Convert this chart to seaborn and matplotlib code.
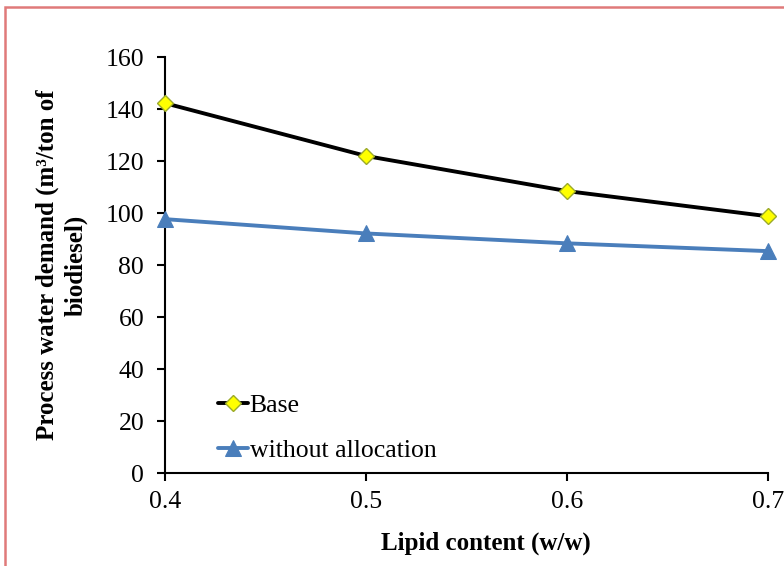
import pandas as pd
import seaborn as sns
import matplotlib.pyplot as plt
from matplotlib.patches import Rectangle

# values
lipid = [0.4, 0.5, 0.6, 0.7]
base = [142.3, 122.0, 108.5, 98.8]
without_alloc = [97.7, 92.2, 88.4, 85.4]
y_ticks = [0, 20, 40, 60, 80, 100, 120, 140, 160]
x_ticks = [0.4, 0.5, 0.6, 0.7]


def main():
    sns.set_style("ticks")
    plt.rcParams['font.family'] = ['Liberation Serif', 'DejaVu Serif']
    plt.rcParams['text.color'] = 'black'
    plt.rcParams['axes.labelcolor'] = 'black'

    df = pd.DataFrame({"lipid": lipid, "base": base, "without": without_alloc})

    fig = plt.figure(figsize=(7.84, 5.66), dpi=100)
    ax = fig.add_axes([0.2105, 0.164, 0.769, 0.735])

    sns.lineplot(data=df, x="lipid", y="base", ax=ax, color="black", lw=2.8,
                 marker="D", markersize=8, markerfacecolor="#FFFF00",
                 markeredgecolor="#9BAA2A", markeredgewidth=1.0,
                 label="Base", clip_on=False, zorder=3)
    sns.lineplot(data=df, x="lipid", y="without", ax=ax, color="#4A7EBB", lw=2.8,
                 marker="^", markersize=11, markerfacecolor="#4A7EBB",
                 markeredgecolor="#4A7EBB", label="without allocation",
                 clip_on=False, zorder=3)

    ax.set_xlim(0.4, 0.7)
    ax.set_ylim(0, 160)
    ax.set_xticks(x_ticks)
    ax.set_xticklabels(["0.4", "0.5", "0.6", "0.7"])
    ax.set_yticks(y_ticks)
    ax.tick_params(labelsize=18.5, width=1.5, length=6, color="black",
                   labelcolor="black")
    ax.tick_params(axis="y", pad=9)
    ax.tick_params(axis="x", pad=7)
    for s in ["left", "bottom"]:
        ax.spines[s].set_linewidth(1.5)
        ax.spines[s].set_color("black")
    sns.despine(ax=ax)

    ax.set_xlabel("Lipid content (w/w)", fontsize=18, fontweight="bold")
    ax.xaxis.set_label_coords(0.532, -0.14)
    ax.set_ylabel("Process water demand (m³/ton of\nbiodiesel)", fontsize=18,
                  fontweight="bold", linespacing=1.3)
    ax.yaxis.set_label_coords(-0.128, 0.5)

    ax.legend(loc="upper left", bbox_to_anchor=(0.07, 0.215), frameon=False,
              fontsize=18.5, handlelength=1.2, handletextpad=0.05, labelspacing=0.85,
              borderaxespad=0)

    # outer frame like the Excel chart border
    fig.patches.append(Rectangle((5 / 784, -0.1), 1.2, 1 - 7 / 566 + 0.1,
                                 transform=fig.transFigure, fill=False,
                                 edgecolor="#E07A7A", lw=1.8))

    fig.savefig("out.png", dpi=100)


if __name__ == "__main__":
    main()
